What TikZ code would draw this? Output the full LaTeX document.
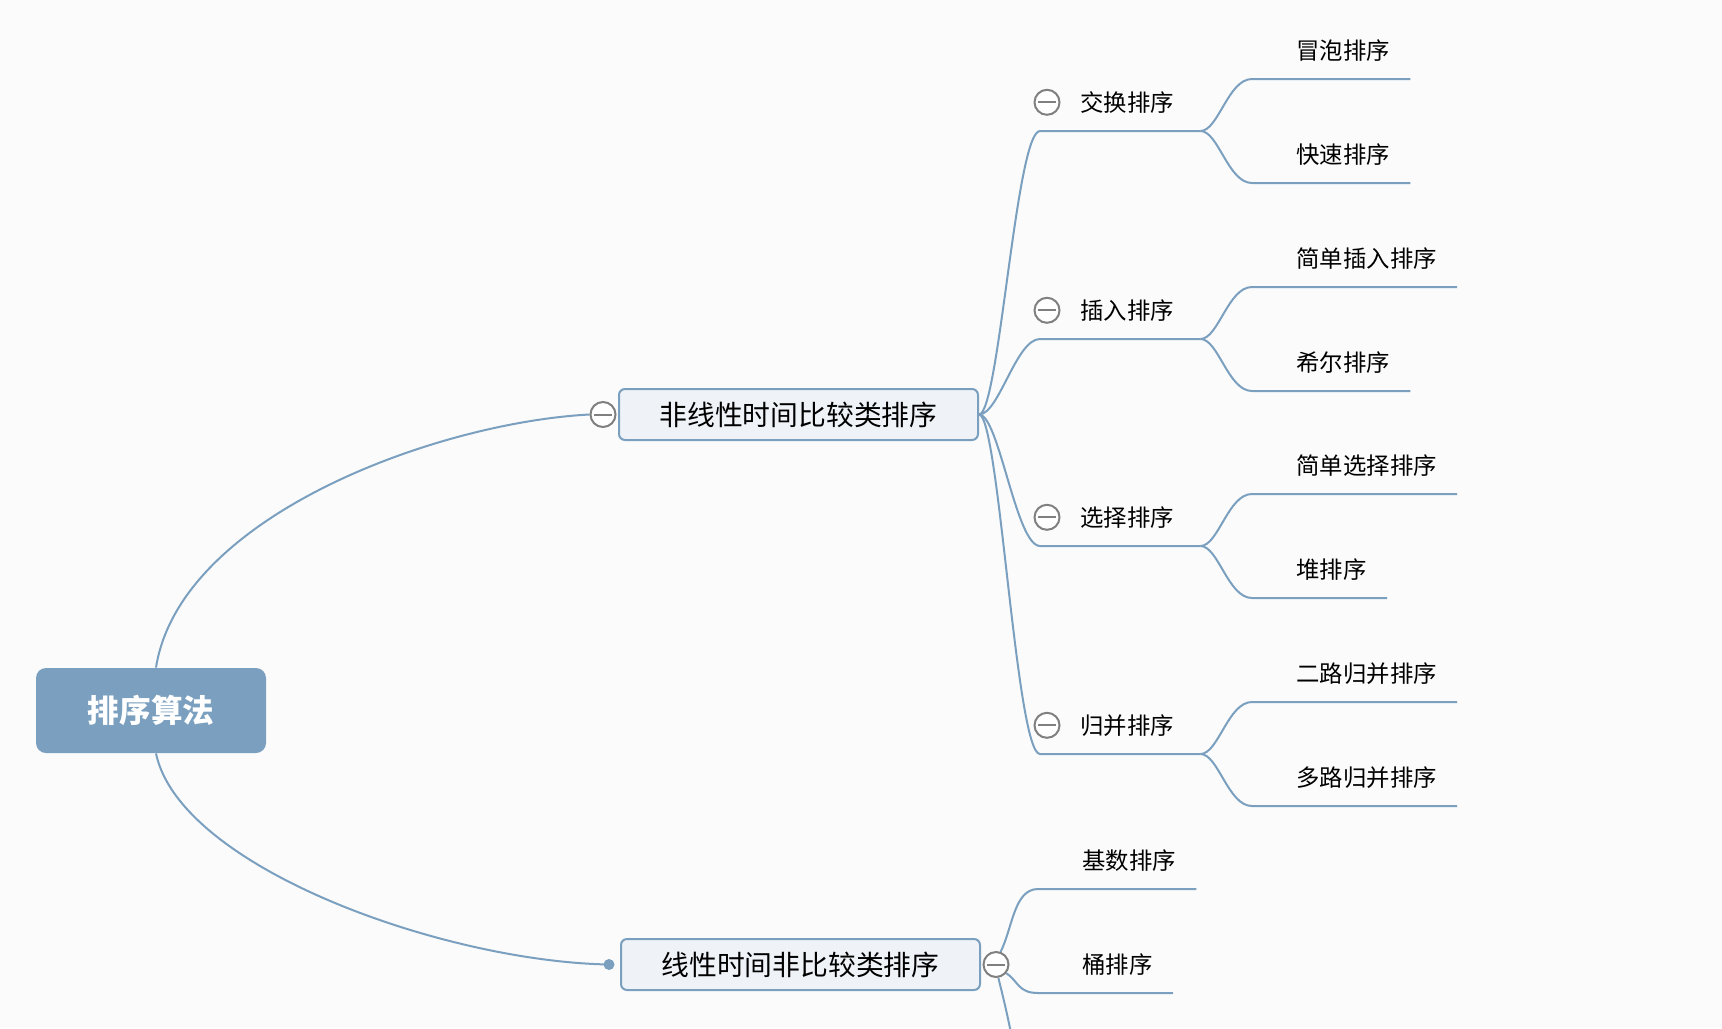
\documentclass[tikz,border=0pt]{standalone}
\usepackage{fontspec}
\setmainfont{Noto Sans CJK SC}
\usetikzlibrary{positioning}
\usetikzlibrary{backgrounds}
\definecolor{mapblue}{RGB}{123,160,191}
\definecolor{mapfill}{RGB}{239,243,248}
\definecolor{mapgray}{RGB}{128,128,128}
\definecolor{mapbg}{RGB}{251,251,251}

\begin{document}
\begin{tikzpicture}[x=0.5pt,y=-0.5pt,
    link/.style={draw=mapblue,line width=1pt},
    rootbox/.style={fill=mapblue,rounded corners=5pt,minimum width=115pt,minimum height=42.5pt,inner sep=0pt,text=white,font=\fontsize{15.8pt}{18pt}\selectfont\bfseries},
    topicbox/.style={draw=mapblue,fill=mapfill,line width=1pt,rounded corners=3pt,minimum width=179.5pt,minimum height=25.5pt,inner sep=0pt,font=\fontsize{13.9pt}{16pt}\selectfont},
    subtopic/.style={anchor=south west,inner xsep=13pt,inner ysep=8.3pt,text height=10.3pt,text depth=1.4pt,font=\fontsize{11.7pt}{14pt}\selectfont},
    leaf/.style={subtopic,inner xsep=10pt},
    fold/.style={circle,draw=mapgray,fill=white,line width=1pt,minimum size=12.5pt,inner sep=0pt,
        path picture={\draw[mapgray,line width=1pt] ([xshift=-4.5pt]path picture bounding box.center) -- ([xshift=4.5pt]path picture bounding box.center);}},
    joint/.style={circle,fill=mapblue,minimum size=5.5pt,inner sep=0pt}]
        \useasboundingbox (0,0) rectangle (1722,1028);

        % Main topics
        \node[rootbox] (root) at (151,710.5) {排序算法};
        \node[topicbox] (nonlin) at (798.5,414.5) {非线性时间比较类排序};
        \node[topicbox] (lin) at (800.5,964.5) {线性时间非比较类排序};
        \node[fold] (nonlinfold) at ([xshift=-7.5pt]nonlin.west) {};
        \node[joint] (linjoint) at ([xshift=-5.5pt]lin.west) {};
        \node[fold] (linfold) at ([xshift=7.5pt]lin.east) {};

        % Second level
        \node[subtopic] (swap) at (1054,131) {交换排序};
        \node[subtopic] (insert) at (1054,339) {插入排序};
        \node[subtopic] (select) at (1054,546) {选择排序};
        \node[subtopic] (merge) at (1054,754) {归并排序};
        \node[fold] (swapfold) at ([xshift=-3.5pt]swap.west) {};
        \node[fold] (insertfold) at ([xshift=-3.5pt]insert.west) {};
        \node[fold] (selectfold) at ([xshift=-3.5pt]select.west) {};
        \node[fold] (mergefold) at ([xshift=-3.5pt]merge.west) {};

        % Leaves
        \node[leaf] (bubble) at (1276,79) {冒泡排序};
        \node[leaf] (quick) at (1276,183) {快速排序};
        \node[leaf] (straightins) at (1276,287) {简单插入排序};
        \node[leaf] (shell) at (1276,391) {希尔排序};
        \node[leaf] (straightsel) at (1276,494) {简单选择排序};
        \node[leaf] (heap) at (1276,598) {堆排序};
        \node[leaf] (twoway) at (1276,702) {二路归并排序};
        \node[leaf] (multiway) at (1276,806) {多路归并排序};
        \node[leaf] (radix) at (1062,889) {基数排序};
        \node[leaf] (bucket) at (1062,993) {桶排序};
        \coordinate (offpage) at (1013,1045);

        % Connectors
        \begin{scope}[on background layer]
            \fill[mapbg] (0,0) rectangle (1722,1028);
            \draw[link] ([xshift=2.5pt]root.north) .. controls +(12pt,76pt) and +(-76pt,-4pt) .. (nonlinfold.west);
            \draw[link] ([xshift=2.5pt]root.south) .. controls +(12pt,-57pt) and +(-83pt,1.5pt) .. (linjoint.center);
            \foreach \n in {swap,insert,select,merge}
                \draw[link] (nonlin.east) .. controls +(10pt,0) and +(-12pt,0) .. ([xshift=-7pt]\n.south west) -- (\n.south east);
            \foreach \p/\a/\b in {swap/bubble/quick,insert/straightins/shell,select/straightsel/heap,merge/twoway/multiway} {
                \draw[link] (\p.south east) .. controls +(9pt,0) and +(-12pt,0) .. ([xshift=-12pt]\a.south west) -- (\a.south east);
                \draw[link] (\p.south east) .. controls +(9pt,0) and +(-12pt,0) .. ([xshift=-12pt]\b.south west) -- (\b.south east);
            }
            \draw[link] (linfold.70) .. controls +(6pt,12pt) and +(-12pt,0) .. ([xshift=-12pt]radix.south west) -- (radix.south east);
            \draw[link] (linfold.-40) .. controls +(6pt,-4pt) and +(-10pt,0) .. ([xshift=-12pt]bucket.south west) -- (bucket.south east);
            \draw[link] (linfold.-80) .. controls +(2pt,-8pt) and +(-1.5pt,10pt) .. (offpage);
        \end{scope}
    \end{tikzpicture}
\end{document}
